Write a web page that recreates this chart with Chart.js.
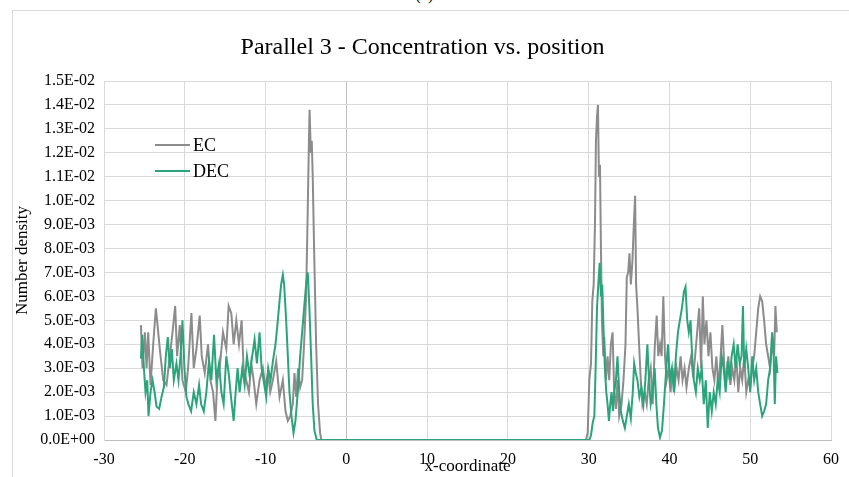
<!DOCTYPE html>
<html>
<head>
<meta charset="utf-8">
<script src="https://cdn.jsdelivr.net/npm/chart.js@4"></script>
<style>
  html, body { margin: 0; padding: 0; background: #fff; overflow: hidden; }
  #wrap { position: relative; width: 849px; height: 477px; }
  #frame { position: absolute; left: 12px; top: 10px; width: 900px; height: 500px; border: 1px solid #d9d9d9; }
  #cap { position: absolute; left: 0; width: 849px; top: -14px; text-align: center; font: 16px "Liberation Serif", serif; }
  canvas { position: absolute; left: 0; top: 0; }
</style>
</head>
<body>
<div id="wrap">
  <div id="frame"></div>
  <div id="cap">(a)</div>
  <canvas id="chart" width="849" height="477"></canvas>
</div>
<script>
// x positions and number density (in units of 1E-03)
const ecX = [
  -25.43, -25.23, -24.94, -24.73, -24.53, -24.24, -23.91, -23.58, -23.37, -23.09,
  -22.67, -22.26, -21.85, -21.52, -21.19, -20.95, -20.62, -20.29, -19.88, -19.59,
  -19.18, -18.89, -18.56, -18.15, -17.90, -17.53, -17.12, -16.83, -16.50, -16.21,
  -15.97, -15.68, -15.27, -14.86, -14.57, -14.24, -13.95, -13.62, -13.29, -12.96,
  -12.72, -12.39, -12.06, -11.77, -11.48, -11.15, -10.74, -10.33, -10.00, -9.71,
  -9.42, -9.09, -8.68, -8.27, -7.86, -7.53, -7.24, -6.95, -6.63, -6.42,
  -6.21, -5.97, -5.72, -5.47, -5.23, -4.98, -4.81, -4.63, -4.55, -4.40,
  -4.28, -4.16, -3.99, -3.74, -3.50, -3.25, -3.09, 29.67, 29.88, 30.08,
  30.29, 30.45, 30.62, 30.78, 30.90, 31.03, 31.15, 31.27, 31.40, 31.52,
  31.64, 31.81, 31.93, 32.14, 32.34, 32.55, 32.75, 32.96, 33.16, 33.37,
  33.57, 33.78, 34.07, 34.31, 34.56, 34.72, 34.89, 35.05, 35.22, 35.42,
  35.59, 35.75, 35.87, 36.04, 36.24, 36.45, 36.65, 36.94, 37.19, 37.43,
  37.68, 37.93, 38.17, 38.42, 38.62, 38.83, 39.03, 39.24, 39.45, 39.65,
  39.90, 40.14, 40.39, 40.64, 40.88, 41.13, 41.38, 41.62, 41.87, 42.11,
  42.40, 42.69, 42.94, 43.18, 43.43, 43.68, 43.92, 44.13, 44.33, 44.58,
  44.83, 45.07, 45.32, 45.56, 45.81, 46.06, 46.30, 46.55, 46.80, 47.04,
  47.29, 47.54, 47.78, 48.03, 48.28, 48.52, 48.77, 49.01, 49.26, 49.51,
  49.75, 50.00, 50.25, 50.49, 50.74, 50.99, 51.23, 51.48, 51.72, 51.97,
  52.22, 52.46, 52.71, 52.96, 53.12, 53.29
];
const ecY = [
  4.8, 3.0, 4.5, 3.0, 4.5, 2.3, 4.0, 5.5, 4.8, 3.8,
  2.5, 2.3, 3.5, 4.5, 5.6, 3.5, 4.8, 2.5, 2.0, 3.0,
  5.3, 3.0, 3.8, 5.2, 3.5, 2.8, 4.0, 2.5, 2.0, 0.8,
  2.5, 3.0, 4.5, 3.8, 5.6, 5.3, 4.0, 5.0, 4.0, 5.0,
  3.0, 2.5, 2.0, 3.2, 2.5, 1.5, 2.5, 3.0, 2.2, 2.8,
  2.0, 2.5, 3.3, 1.8, 2.5, 1.2, 0.8, 1.0, 1.5, 2.8,
  1.8, 3.0, 2.2, 2.5, 4.0, 6.0, 9.0, 12.5, 13.8, 12.0,
  12.5, 11.0, 8.0, 4.0, 1.5, 0.3, 0, 0, 0.3, 2.5,
  3.2, 5.8, 6.5, 9.0, 12.5, 13.5, 14.0, 11.0, 11.5, 8.0,
  5.0, 3.5, 4.3, 2.5, 3.5, 2.5, 4.0, 4.5, 2.0, 1.3,
  2.5, 1.0, 1.5, 2.5, 4.0, 6.8, 7.0, 7.8, 6.5, 7.5,
  9.0, 10.2, 6.5, 5.5, 4.0, 2.5, 1.5, 2.0, 1.5, 2.5,
  3.0, 1.5, 3.8, 5.2, 3.5, 4.0, 3.5, 6.0, 3.5, 2.5,
  3.0, 2.0, 3.0, 2.2, 3.0, 2.5, 3.5, 2.5, 3.0, 2.2,
  3.0, 3.5, 2.6, 3.5, 4.5, 5.5, 3.0, 6.0, 4.0, 5.0,
  3.5, 4.5, 3.0, 2.5, 3.5, 2.2, 3.3, 4.8, 3.0, 2.5,
  3.5, 2.3, 3.0, 2.5, 3.5, 2.0, 3.0, 2.5, 3.5, 2.0,
  2.5, 2.2, 3.0, 3.5, 4.5, 5.5, 6.0, 5.8, 5.0, 4.0,
  3.5, 3.0, 4.0, 3.5, 5.6, 4.5
];
const decX = [
  -25.43, -25.27, -25.06, -24.86, -24.65, -24.49, -24.24, -23.99, -23.74, -23.50,
  -23.17, -22.88, -22.59, -22.35, -22.10, -21.85, -21.60, -21.36, -21.03, -20.78,
  -20.53, -20.29, -20.04, -19.79, -19.55, -19.22, -18.89, -18.56, -18.23, -17.98,
  -17.65, -17.33, -17.00, -16.71, -16.38, -16.09, -15.76, -15.47, -15.19, -14.86,
  -14.57, -14.28, -13.95, -13.70, -13.46, -13.21, -12.88, -12.59, -12.30, -11.98,
  -11.65, -11.36, -11.07, -10.74, -10.49, -10.25, -9.92, -9.67, -9.38, -9.09,
  -8.77, -8.48, -8.27, -8.07, -7.86, -7.70, -7.45, -7.24, -7.04, -6.79,
  -6.54, -6.30, -6.01, -5.72, -5.47, -5.23, -4.98, -4.77, -4.57, -4.36,
  -4.16, -3.95, -3.66, 30.08, 30.29, 30.49, 30.70, 30.86, 31.03, 31.19,
  31.36, 31.52, 31.68, 31.85, 32.01, 32.18, 32.34, 32.51, 32.67, 32.83,
  33.00, 33.16, 33.37, 33.57, 33.78, 33.98, 34.23, 34.48, 34.72, 34.97,
  35.22, 35.46, 35.63, 35.83, 36.04, 36.28, 36.53, 36.78, 37.02, 37.27,
  37.47, 37.68, 37.93, 38.17, 38.38, 38.58, 38.83, 39.08, 39.32, 39.57,
  39.82, 40.06, 40.31, 40.55, 40.80, 41.05, 41.29, 41.54, 41.79, 41.99,
  42.20, 42.40, 42.61, 42.81, 43.02, 43.27, 43.51, 43.76, 44.00, 44.25,
  44.50, 44.74, 44.99, 45.24, 45.48, 45.73, 45.97, 46.22, 46.47, 46.71,
  46.96, 47.21, 47.45, 47.70, 47.95, 48.19, 48.44, 48.69, 48.93, 49.10,
  49.26, 49.51, 49.75, 50.00, 50.25, 50.49, 50.74, 50.99, 51.23, 51.48,
  51.72, 51.97, 52.22, 52.46, 52.71, 52.87, 53.04, 53.20, 53.37
];
const decY = [
  3.4, 4.4, 3.0, 2.0, 2.5, 1.0, 2.0, 2.5, 2.0, 1.4,
  1.3, 1.8, 2.2, 3.5, 4.3, 3.0, 3.8, 2.5, 3.2, 2.5,
  3.5, 5.0, 3.0, 1.8, 1.5, 1.2, 2.0, 1.5, 2.3, 1.5,
  1.2, 2.0, 3.3, 2.5, 4.4, 2.5, 3.2, 2.0, 1.5, 3.5,
  2.8, 1.8, 0.8, 2.0, 3.0, 2.0, 3.0, 2.3, 3.5, 2.7,
  3.5, 4.2, 3.2, 4.5, 3.0, 2.5, 1.8, 3.0, 2.5, 3.3,
  4.0, 5.0, 5.8, 6.5, 6.9, 6.5, 5.0, 3.5, 2.0, 1.0,
  0.3, 0.8, 2.0, 3.5, 4.5, 5.5, 6.5, 7.0, 5.5, 3.5,
  1.5, 0.4, 0, 0, 0.2, 0.7, 1.0, 3.0, 5.5, 6.5,
  7.4, 6.0, 6.5, 4.5, 3.0, 2.0, 1.5, 0.8, 1.5, 2.0,
  1.2, 2.0, 2.5, 3.5, 2.0, 1.2, 0.8, 0.5, 1.0, 1.5,
  0.9, 2.0, 3.2, 2.8, 2.5, 1.8, 2.2, 1.5, 2.5, 4.0,
  2.5, 1.5, 2.0, 3.0, 1.5, 0.5, 0.1, 0.4, 1.5, 2.8,
  4.0, 2.5, 3.0, 2.0, 3.5, 4.5, 5.0, 5.5, 6.2, 6.4,
  5.0, 4.5, 5.0, 3.5, 2.5, 2.0, 3.0, 2.5, 3.0, 1.5,
  2.5, 0.5, 2.0, 1.2, 2.0, 1.5, 2.5, 2.0, 3.5, 3.0,
  2.0, 3.3, 2.5, 3.5, 4.0, 3.0, 4.0, 3.2, 3.5, 5.6,
  3.0, 3.8, 3.0, 2.0, 3.5, 2.5, 3.0, 2.0, 1.5, 1.0,
  1.2, 1.5, 2.5, 3.0, 4.5, 4.0, 1.5, 3.5, 2.8
];
const seriesNames = ["EC", "DEC"];
const seriesColors = ["#8c8c8c", "#2ba47c"];
const xTicks = { min: -30, max: 60, step: 10 };
const yTicks = { min: 0, max: 0.015, step: 0.001 };

const toPoints = (xs, ys) => xs.map((x, i) => ({ x: x, y: ys[i] * 1e-3 }));

function sci(v) {
  const parts = v.toExponential(1).split("e");
  const e = parseInt(parts[1], 10);
  return parts[0] + "E" + (e < 0 ? "-" : "+") + String(Math.abs(e)).padStart(2, "0");
}

const serif = "'Liberation Serif', 'Times New Roman', serif";

// legend drawn inside the plot area, like the original
const innerLegend = {
  id: "innerLegend",
  afterDraw(chart) {
    const ctx = chart.ctx;
    const area = chart.chartArea;
    const x0 = area.left + 51, y0 = area.top + 64;
    ctx.save();
    ctx.font = "18px " + serif;
    ctx.textBaseline = "middle";
    seriesNames.forEach((name, i) => {
      const y = y0 + i * 26;
      ctx.strokeStyle = seriesColors[i];
      ctx.lineWidth = 2;
      ctx.beginPath();
      ctx.moveTo(x0, y);
      ctx.lineTo(x0 + 35, y);
      ctx.stroke();
      ctx.fillStyle = "#000";
      ctx.fillText(name, x0 + 38, y + 1);
    });
    ctx.restore();
  }
};

new Chart(document.getElementById("chart"), {
  type: "line",
  data: {
    datasets: [
      {
        label: seriesNames[0],
        data: toPoints(ecX, ecY),
        borderColor: seriesColors[0],
        borderWidth: 2,
        pointRadius: 0,
        tension: 0,
        order: 1,
      },
      {
        label: seriesNames[1],
        data: toPoints(decX, decY),
        borderColor: seriesColors[1],
        borderWidth: 2,
        pointRadius: 0,
        tension: 0,
        order: 0,
      },
    ],
  },
  options: {
    responsive: false,
    animation: false,
    layout: { padding: { left: 12, right: 16, top: 10, bottom: 0 } },
    plugins: {
      legend: { display: false },
      tooltip: { enabled: false },
      title: {
        display: true,
        text: "Parallel 3 - Concentration vs. position",
        color: "#000",
        font: { family: serif, size: 24, weight: "normal" },
        padding: { top: 23.6, bottom: 18.6 },
      },
    },
    scales: {
      x: {
        type: "linear",
        min: xTicks.min,
        max: xTicks.max,
        afterFit: (scale) => { scale.height = 37; },
        ticks: {
          stepSize: xTicks.step,
          color: "#000",
          padding: 10,
          font: { family: serif, size: 16 },
        },
        grid: {
          color: (c) => (c.tick && c.tick.value === 0 ? "#bfbfbf" : "#d9d9d9"),
          drawTicks: false,
        },
        border: { color: "#bfbfbf" },
        title: {
          display: true,
          text: "x-coordinate",
          color: "#000",
          font: { family: serif, size: 17 },
          padding: { top: 0, bottom: 0 },
        },
      },
      y: {
        min: yTicks.min,
        max: yTicks.max,
        afterFit: (scale) => { scale.width = 92; },
        ticks: {
          stepSize: yTicks.step,
          color: "#000",
          padding: 9,
          font: { family: serif, size: 16 },
          callback: (v) => sci(v),
        },
        grid: { color: "#d9d9d9", drawTicks: false },
        border: { color: "#d9d9d9" },
        title: {
          display: true,
          text: "Number density",
          color: "#000",
          font: { family: serif, size: 17 },
          padding: { top: 0, bottom: 0 },
        },
      },
    },
  },
  plugins: [innerLegend],
});
</script>
</body>
</html>
